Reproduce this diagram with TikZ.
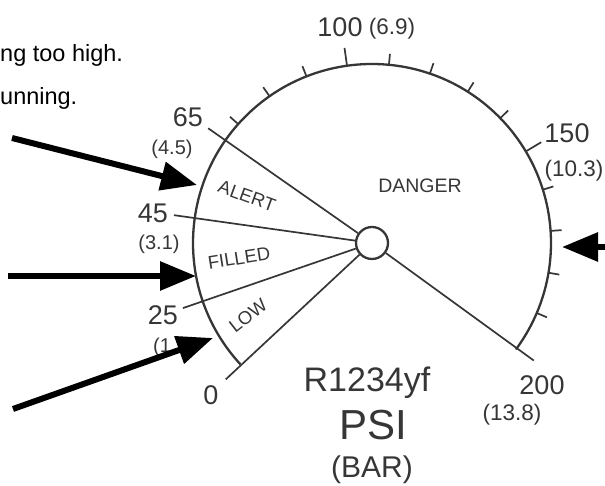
\documentclass[tikz,border=0pt]{standalone}
\usepackage{fontspec}
\setmainfont{Liberation Sans}
\usetikzlibrary{arrows.meta}
\definecolor{dialgray}{HTML}{363636}

\begin{document}
\begin{tikzpicture}[
  x=1pt, y=1pt,
  dial/.style={draw=dialgray, line width=2.3pt},
  zone/.style={draw=dialgray, line width=1.7pt},
  tickmark/.style={draw=dialgray, line width=1.7pt},
  num/.style={font=\fontsize{27}{27}\selectfont, text=dialgray, inner sep=0pt, anchor=base},
  bar/.style={font=\fontsize{20}{20}\selectfont, text=dialgray, inner sep=0pt, anchor=base},
  bigbar/.style={bar, font=\fontsize{22.5}{22.5}\selectfont},
  band/.style={font=\fontsize{18.5}{18.5}\selectfont, text=dialgray, inner sep=0pt},
  note/.style={font=\fontsize{23.5}{23.5}\selectfont, inner sep=0pt, anchor=base west},
  pointer/.style={-{Triangle[length=36pt,width=28pt]}, line width=6pt, black},
]
\clip (0,0) rectangle (605,486);

% Dial
\coordinate (C) at (372,243);
\draw[dial] ([shift={(222.7:179pt)}]C) arc[start angle=222.7, end angle=-36.5, radius=179pt];
\node[circle, draw=dialgray, line width=2.3pt, fill=white, minimum size=32pt, inner sep=0pt] (hub) at (C) {};

% Zone lines
\foreach \a/\n in {223/zero, 199/low, 172/filled, 145/alert, 324/full} {
  \coordinate (end-\n) at ([shift={(\a:200pt)}]C);
  \draw[zone] (hub.\a) -- (end-\n);
}

% Ticks
\foreach \v in {70,80,90,110,120,130,140,160,170,180,190} {
  \pgfmathsetmacro\a{172-(\v-45)*1.345}
  \draw[tickmark] ([shift={(\a:179pt)}]C) -- ([shift={(\a:190pt)}]C);
}
\foreach \v in {100,150} {
  \pgfmathsetmacro\a{172-(\v-45)*1.345}
  \draw[tickmark] ([shift={(\a:179pt)}]C) -- ([shift={(\a:197pt)}]C);
}

% Scale labels
\node[num] (p100) at (340,449) {100};
\node[bigbar] (b100) at (392,451) {(6.9)};
\node[num] (p150) at (567,343) {150};
\node[bigbar] (b150) at (574,309) {(10.3)};
\node[num] (p200) at (542,91) {200};
\node[bigbar] (b200) at (512,65) {(13.8)};
\node[num] (p0) at (211,81) {0};
\node[num] (p25) at (163,161) {25};
\node[bar, anchor=base west] (b25) at (153,133) {(1};
\node[num] (p45) at (153,263) {45};
\node[bar] (b45) at (159,236) {(3.1)};
\node[num] (p65) at (188,359) {65};
\node[bar] (b65) at (172,331) {(4.5)};

% Zones
\node[band, rotate=-20] (alert) at (247,290) {ALERT};
\node[band, rotate=9] (filled) at (239,228) {FILLED};
\node[band, rotate=38] (low) at (248,170) {LOW};
\node[band, anchor=base, font=\fontsize{19.5}{19.5}\selectfont] (danger) at (420,293) {DANGER};

% Name
\node[font=\fontsize{34}{34}\selectfont, text=dialgray, inner sep=0pt, anchor=base] (gas) at (367,94) {R1234yf};
\node[font=\fontsize{42}{42}\selectfont, text=dialgray, inner sep=0pt, anchor=base] (unit) at (373,46) {PSI};
\node[font=\fontsize{30}{30}\selectfont, text=dialgray, inner sep=0pt, anchor=base] (unit2) at (372,8) {(BAR)};

% Notes
\node[note] (n1) at (0,424) {ng too high.};
\node[note] (n2) at (0,381) {unning.};

% Pointers
\coordinate (a1) at (12,348);
\coordinate (t1) at (197,301);
\coordinate (a2) at (8,210);
\coordinate (t2) at (196,210);
\coordinate (a3) at (13,77);
\coordinate (t3) at (213,148);
\coordinate (a4) at (615,239);
\coordinate (t4) at (562,239);
\draw[pointer] (a1) -- (t1);
\draw[pointer] (a2) -- (t2);
\draw[pointer] (a3) -- (t3);
\draw[pointer] (a4) -- (t4);
\end{tikzpicture}
\end{document}
